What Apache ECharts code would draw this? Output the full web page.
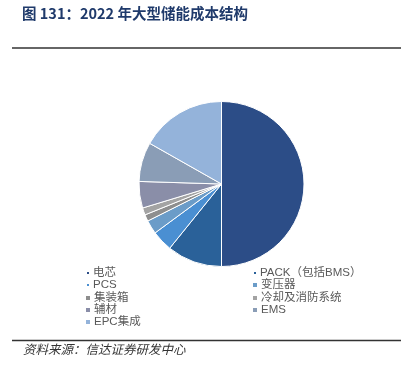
<!DOCTYPE html>
<html><head><meta charset="utf-8">
<script src="https://cdn.jsdelivr.net/npm/echarts@6/dist/echarts.min.js"></script>
<style>html,body{margin:0;padding:0;background:#fff}#c{width:413px;height:374px}</style>
</head><body><div id="c"></div>
<script>
const categories = ['电芯','PACK（包括BMS）','PCS','变压器','集装箱','冷却及消防系统','辅材','EMS','EPC集成'];
const values = [50.0, 10.8, 4.1, 2.7, 1.3, 1.4, 5.2, 7.7, 16.8];
const colors = ['#2C4D87','#2A6199','#4A8FD2','#6B9CC8','#8E8E8E','#A3A3A3','#8A8EA8','#8A9DB6','#94B3DA'];
const titleText = '图 131：2022 年大型储能成本结构';
const sourceText = '资料来源：信达证券研发中心';

const cjk = '"Noto Sans CJK SC", "Liberation Sans", sans-serif';
const mixed = '"Liberation Sans", "Noto Sans CJK SC", sans-serif';
// legend layout: [left, top, markerSize]
const legendPos = [
  [85, 266, 4], [252, 266, 4],
  [85, 278, 4], [251, 278, 6],
  [84, 291, 6], [251, 291, 6],
  [84, 303, 6], [251, 303, 6],
  [84, 315, 6]
];
const legends = categories.map((name, i) => ({
  data: [name],
  left: legendPos[i][0], top: legendPos[i][1],
  padding: 0, itemGap: 0,
  itemWidth: legendPos[i][2], itemHeight: legendPos[i][2],
  icon: 'rect', selectedMode: false,
  textStyle: { color: '#595959', fontSize: 11.5, fontFamily: mixed, lineHeight: 14, padding: [0,0,0,-2] }
}));

const chart = echarts.init(document.getElementById('c'), null, {renderer: 'canvas'});
chart.setOption({
  animation: false,
  color: colors,
  legend: legends,
  series: [{
    type: 'pie',
    center: [221.5, 184],
    radius: 82.5,
    startAngle: 90,
    clockwise: true,
    label: { show: false },
    labelLine: { show: false },
    itemStyle: { borderColor: '#fff', borderWidth: 1 },
    emphasis: { disabled: true },
    data: categories.map((n, i) => ({ name: n, value: values[i] }))
  }],
  graphic: [
    { type: 'text', left: 22, top: 6, style: { text: titleText, fill: '#1F3A6B', font: 'bold 14.5px ' + cjk } },
    { type: 'line', shape: { x1: 12, y1: 48, x2: 401, y2: 48 }, style: { stroke: '#333', lineWidth: 1.5 } },
    { type: 'line', shape: { x1: 12, y1: 340.5, x2: 401, y2: 340.5 }, style: { stroke: '#333', lineWidth: 1.5 } },
    { type: 'text', left: 23, top: 343, style: { text: sourceText, fill: '#333', font: 'italic 12.5px ' + cjk } }
  ]
});
</script></body></html>
